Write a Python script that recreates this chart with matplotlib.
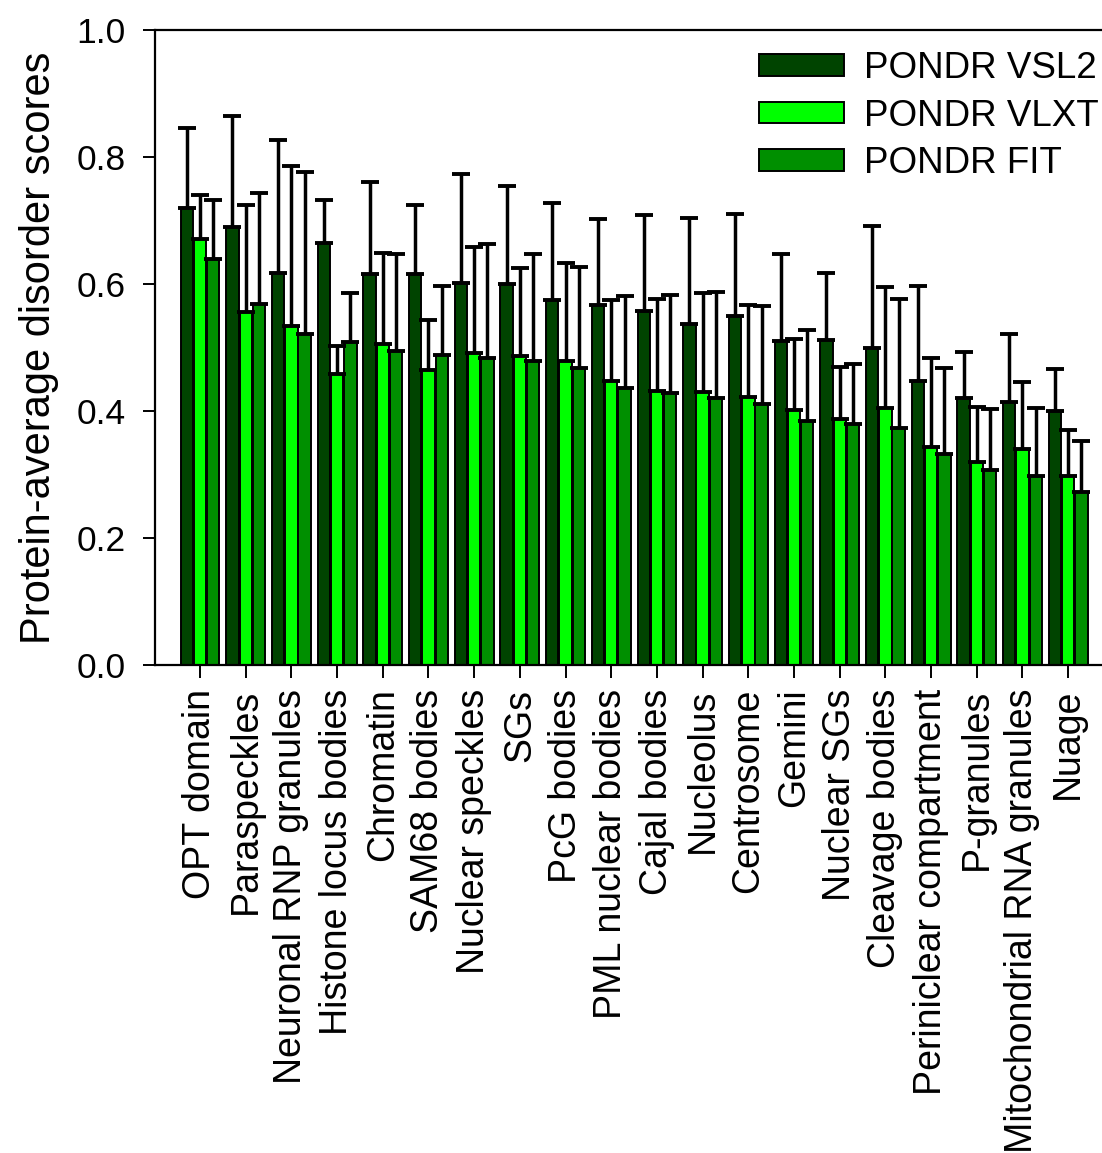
import numpy as np
import matplotlib
matplotlib.use("Agg")
import matplotlib.pyplot as plt

plt.rcParams['font.family'] = ['Liberation Sans', 'DejaVu Sans']

# compartments, sorted as in the figure
categories = ["OPT domain", "Paraspeckles", "Neuronal RNP granules", "Histone locus bodies",
              "Chromatin", "SAM68 bodies", "Nuclear speckles", "SGs", "PcG bodies",
              "PML nuclear bodies", "Cajal bodies", "Nucleolus", "Centrosome", "Gemini",
              "Nuclear SGs", "Cleavage bodies", "Periniclear compartment", "P-granules",
              "Mitochondrial RNA granules", "Nuage"]

# mean scores
vsl2 = [0.720, 0.689, 0.618, 0.664, 0.616, 0.616, 0.601, 0.600, 0.575, 0.567,
        0.557, 0.537, 0.549, 0.511, 0.512, 0.500, 0.448, 0.420, 0.414, 0.400]
vlxt = [0.671, 0.556, 0.534, 0.458, 0.506, 0.464, 0.491, 0.487, 0.478, 0.447,
        0.431, 0.430, 0.422, 0.402, 0.387, 0.405, 0.343, 0.320, 0.340, 0.297]
fit = [0.639, 0.568, 0.522, 0.508, 0.494, 0.488, 0.483, 0.478, 0.467, 0.436,
       0.428, 0.420, 0.411, 0.385, 0.380, 0.374, 0.332, 0.307, 0.297, 0.272]

# upper error (std)
vsl2_err = [0.125, 0.176, 0.209, 0.068, 0.144, 0.109, 0.172, 0.155, 0.152, 0.135,
            0.152, 0.167, 0.161, 0.136, 0.106, 0.191, 0.149, 0.073, 0.108, 0.066]
vlxt_err = [0.069, 0.168, 0.252, 0.044, 0.143, 0.080, 0.168, 0.138, 0.155, 0.128,
            0.145, 0.156, 0.145, 0.111, 0.082, 0.191, 0.140, 0.087, 0.106, 0.073]
fit_err = [0.094, 0.175, 0.254, 0.078, 0.154, 0.109, 0.180, 0.170, 0.159, 0.145,
           0.155, 0.168, 0.155, 0.142, 0.094, 0.202, 0.135, 0.096, 0.107, 0.080]

fig = plt.figure(figsize=(11.02, 11.53), dpi=100)
ax = fig.add_axes([155/1102, 1 - 665/1153, 1 - 155/1102, (665 - 30)/1153])

x = np.arange(len(categories))
w = 0.27
off = 0.29
ekw = dict(elinewidth=2.5, capthick=2.8, ecolor='black')
ax.bar(x - off, vsl2, w, color='#004400', edgecolor='black', linewidth=1.4,
       yerr=[np.zeros(len(x)), vsl2_err], capsize=6.5, error_kw=ekw, label='PONDR VSL2')
ax.bar(x, vlxt, w, color='#00ff00', edgecolor='black', linewidth=1.4,
       yerr=[np.zeros(len(x)), vlxt_err], capsize=6.5, error_kw=ekw, label='PONDR VLXT')
ax.bar(x + off, fit, w, color='#008f00', edgecolor='black', linewidth=1.4,
       yerr=[np.zeros(len(x)), fit_err], capsize=6.5, error_kw=ekw, label='PONDR FIT')

ax.set_xlim(-0.985, 19.74)
ax.set_ylim(0, 1.0)
ax.set_yticks(np.arange(0, 1.01, 0.2))
ax.set_yticklabels(['%.1f' % v for v in np.arange(0, 1.01, 0.2)])
ax.set_xticks(x)
ax.set_xticklabels(categories, rotation=90)
ax.tick_params(axis='both', direction='out', length=9, width=1.4)
ax.tick_params(axis='y', pad=12, labelsize=25.5)
ax.tick_params(axis='x', pad=8, labelsize=27)
for s in ['left', 'bottom', 'top']:
    ax.spines[s].set_linewidth(1.6)
ax.spines['right'].set_visible(False)
ax.set_ylabel('Protein-average disorder scores', fontsize=30, labelpad=13)

ax.legend(loc='upper left', bbox_to_anchor=(759/1102, 1 - 51/1153), bbox_transform=fig.transFigure,
          frameon=False, fontsize=26.5, borderpad=0, borderaxespad=0, handlelength=2.31,
          handleheight=0.52, handletextpad=0.54, labelspacing=0.34)

fig.savefig('out.png', dpi=100)
